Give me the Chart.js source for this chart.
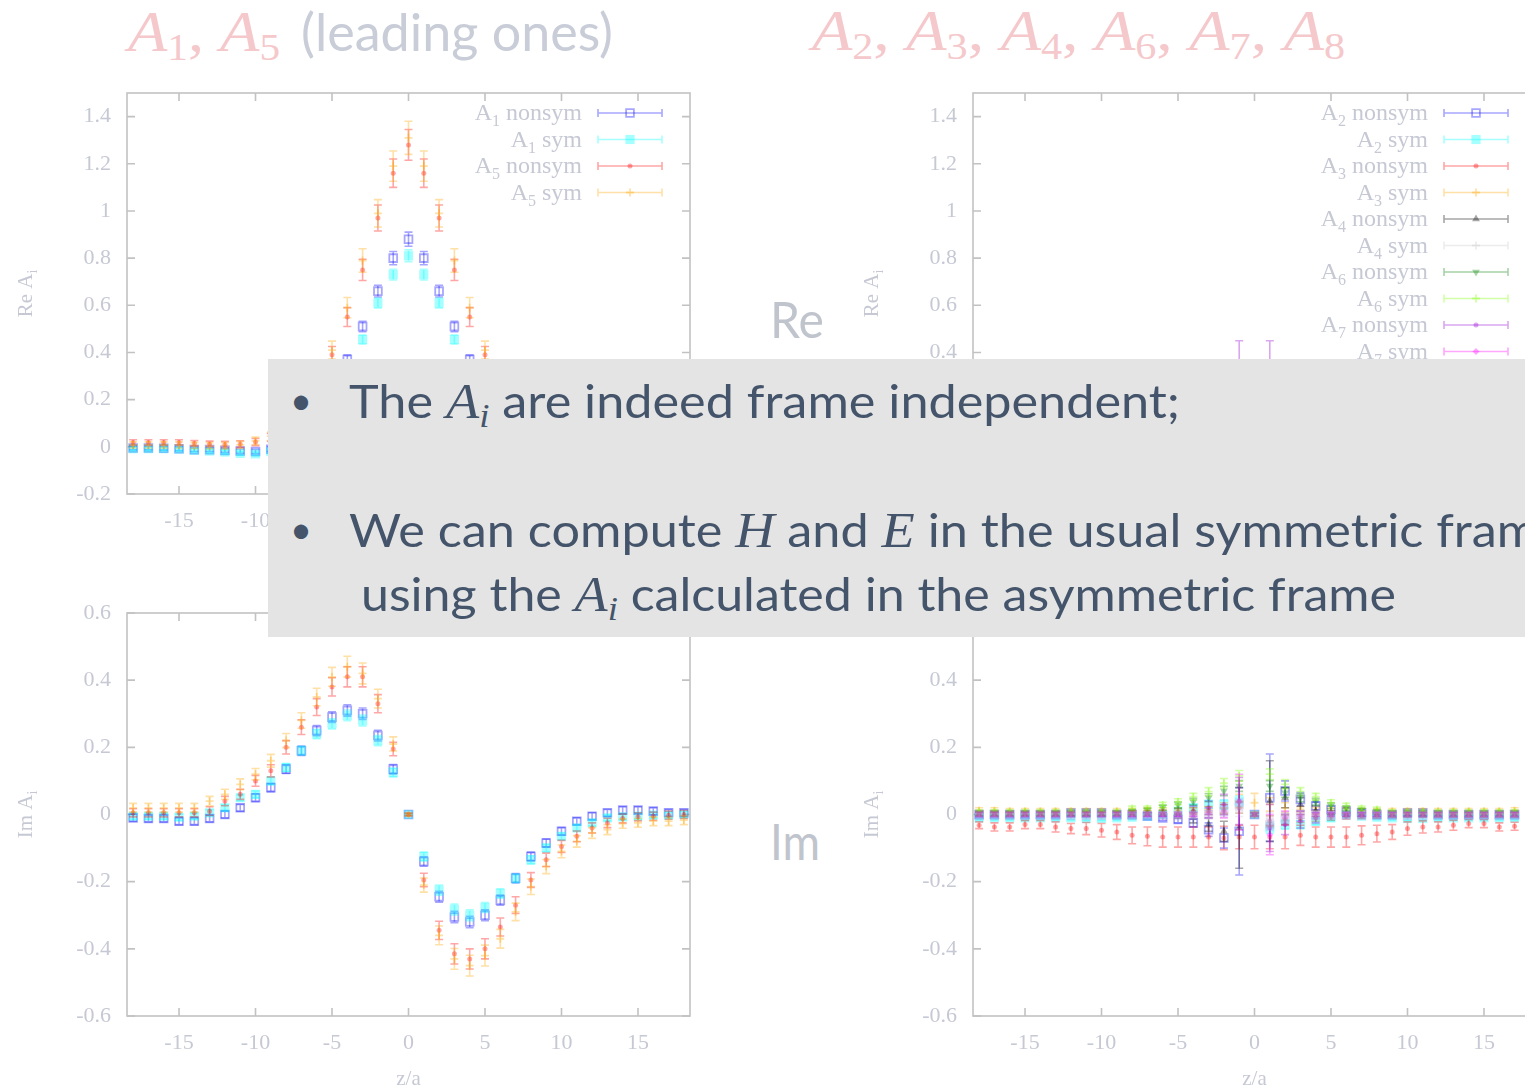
<!DOCTYPE html>
<html lang="en">
<head>
<meta charset="utf-8">
<title>Frame independence of the amplitudes A_i</title>
<script src="https://cdn.jsdelivr.net/npm/chart.js@4.4.1/dist/chart.umd.min.js"></script>
<style>
  html, body { margin: 0; padding: 0; }
  body { position: relative; width: 1525px; height: 1088px; overflow: hidden; background: #ffffff; }
  .plot { position: absolute; }
  .plot canvas { display: block; }
  .txt { position: absolute; left: 0; top: 0; white-space: nowrap; transform-origin: 0 0; line-height: 1.2; }
  .bl { display: inline-block; width: 0; height: 0; vertical-align: baseline; }
  .tmath { font-family: 'Liberation Serif', serif; font-size: 58px; color: #f5c8cb; }
  .tmath i { font-style: italic; }
  .tmath .sb { font-size: 0.64em; position: relative; top: 0.24em; }
  .twords { font-family: Lato, 'Open Sans', sans-serif; font-size: 52px; font-weight: 400; color: #c9cdd8; }
  .tag { font-family: Lato, 'Open Sans', sans-serif; font-size: 50px; color: #c0c4cd; }
  #panel { position: absolute; left: 268px; top: 359px; width: 1320px; height: 278px; background: #e4e4e4; z-index: 5; }
  .say { font-family: Lato, 'Open Sans', sans-serif; font-size: 46px; color: #44546a; z-index: 6; }
  .say .mi { font-family: 'Liberation Serif', serif; font-style: italic; font-size: 1.08em; }
  .say .si { font-size: 0.68em; position: relative; top: 0.26em; }
  .dot { font-size: 38px; }
</style>
</head>
<body>

<div class="plot" style="left:0px;top:80px;width:720px;height:470px"><canvas id="reLead"></canvas></div>
<div class="plot" style="left:846px;top:80px;width:720px;height:470px"><canvas id="reSub"></canvas></div>
<div class="plot" style="left:0px;top:600px;width:720px;height:488px"><canvas id="imLead"></canvas></div>
<div class="plot" style="left:846px;top:600px;width:720px;height:488px"><canvas id="imSub"></canvas></div>

<div class="txt tmath" id="ttlMathL"><i>A</i><span class="sb">1</span>, <i>A</i><span class="sb">5</span><span class="bl"></span></div>
<div class="txt twords" id="ttlWordsL">(leading ones)<span class="bl"></span></div>
<div class="txt tmath" id="ttlMathR"><i>A</i><span class="sb">2</span>, <i>A</i><span class="sb">3</span>, <i>A</i><span class="sb">4</span>, <i>A</i><span class="sb">6</span>, <i>A</i><span class="sb">7</span>, <i>A</i><span class="sb">8</span><span class="bl"></span></div>
<div class="txt tag" id="tagRe">Re<span class="bl"></span></div>
<div class="txt tag" id="tagIm">Im<span class="bl"></span></div>

<div id="panel"></div>
<div class="txt say dot" id="dot1">•<span class="bl"></span></div>
<div class="txt say" id="row1">The <span class="mi">A<span class="si">i</span></span> are indeed frame independent;<span class="bl"></span></div>
<div class="txt say dot" id="dot2">•<span class="bl"></span></div>
<div class="txt say" id="row2">We can compute <span class="mi">H</span> and <span class="mi">E</span> in the usual symmetric frame<span class="bl"></span></div>
<div class="txt say" id="row3">using the <span class="mi">A<span class="si">i</span></span> calculated in the asymmetric frame<span class="bl"></span></div>

<script>
// ---- lattice separations z/a and axis ticks ----
const zValues = [-18,-17,-16,-15,-14,-13,-12,-11,-10,-9,-8,-7,-6,-5,-4,-3,-2,-1,0,1,2,3,4,5,6,7,8,9,10,11,12,13,14,15,16,17,18];
const xTickValues = [-15,-10,-5,0,5,10,15];
const reTickValues = [-0.2,0,0.2,0.4,0.6,0.8,1,1.2,1.4];
const imTickValues = [-0.6,-0.4,-0.2,0,0.2,0.4,0.6];

// ---- Re A1, A5 ----
const reA1Nonsym    = [-0.005,-0.005,-0.006,-0.008,-0.012,-0.012,-0.015,-0.018,-0.02,-0.01,0.02,0.06,0.14,0.25,0.37,0.51,0.66,0.80,0.88,0.80,0.66,0.51,0.37,0.25,0.14,0.06,0.02,-0.01,-0.02,-0.018,-0.015,-0.012,-0.012,-0.008,-0.006,-0.005,-0.005];
const reA1NonsymErr = [0.008,0.008,0.008,0.008,0.008,0.008,0.008,0.009,0.009,0.01,0.01,0.012,0.014,0.016,0.02,0.022,0.025,0.028,0.03,0.028,0.025,0.022,0.02,0.016,0.014,0.012,0.01,0.01,0.009,0.009,0.008,0.008,0.008,0.008,0.008,0.008,0.008];
const reA1Sym       = [-0.008,-0.008,-0.008,-0.01,-0.015,-0.018,-0.022,-0.028,-0.03,-0.02,0.01,0.05,0.11,0.2,0.31,0.455,0.61,0.73,0.81,0.73,0.61,0.455,0.31,0.2,0.11,0.05,0.01,-0.02,-0.03,-0.028,-0.022,-0.018,-0.015,-0.01,-0.008,-0.008,-0.008];
const reA1SymErr    = [0.007,0.007,0.007,0.007,0.007,0.007,0.008,0.008,0.008,0.009,0.01,0.011,0.013,0.015,0.017,0.019,0.021,0.023,0.025,0.023,0.021,0.019,0.017,0.015,0.013,0.011,0.01,0.009,0.008,0.008,0.008,0.007,0.007,0.007,0.007,0.007,0.007];
const reA5Nonsym    = [0.018,0.018,0.018,0.018,0.015,0.012,0.01,0.012,0.02,0.04,0.08,0.15,0.25,0.39,0.55,0.75,0.97,1.16,1.28,1.16,0.97,0.75,0.55,0.39,0.25,0.15,0.08,0.04,0.02,0.012,0.01,0.012,0.015,0.018,0.018,0.018,0.018];
const reA5NonsymErr = [0.012,0.012,0.012,0.012,0.012,0.012,0.013,0.014,0.015,0.017,0.02,0.025,0.03,0.035,0.04,0.045,0.055,0.06,0.065,0.06,0.055,0.045,0.04,0.035,0.03,0.025,0.02,0.017,0.015,0.014,0.013,0.012,0.012,0.012,0.012,0.012,0.012];
const reA5Sym       = [0.008,0.008,0.008,0.008,0.006,0.005,0.005,0.008,0.025,0.045,0.09,0.16,0.27,0.41,0.59,0.79,0.99,1.19,1.31,1.19,0.99,0.79,0.59,0.41,0.27,0.16,0.09,0.045,0.025,0.008,0.005,0.005,0.006,0.008,0.008,0.008,0.008];
const reA5SymErr    = [0.013,0.013,0.013,0.013,0.013,0.013,0.014,0.015,0.016,0.018,0.022,0.027,0.032,0.038,0.043,0.05,0.058,0.064,0.07,0.064,0.058,0.05,0.043,0.038,0.032,0.027,0.022,0.018,0.016,0.015,0.014,0.013,0.013,0.013,0.013,0.013,0.013];

// ---- Im A1, A5 ----
const imA1Nonsym    = [-0.01,-0.012,-0.012,-0.02,-0.02,-0.012,0,0.02,0.05,0.08,0.135,0.19,0.25,0.29,0.31,0.30,0.235,0.135,0,-0.14,-0.245,-0.305,-0.32,-0.30,-0.255,-0.19,-0.125,-0.085,-0.05,-0.02,-0.005,0.005,0.013,0.013,0.01,0.005,0.005];
const imA1NonsymErr = [0.01,0.01,0.01,0.01,0.01,0.01,0.01,0.01,0.011,0.012,0.013,0.014,0.015,0.016,0.017,0.017,0.016,0.014,0.003,0.014,0.016,0.017,0.017,0.016,0.015,0.014,0.013,0.012,0.011,0.01,0.01,0.01,0.01,0.01,0.01,0.01,0.01];
const imA1Sym       = [-0.005,-0.005,-0.005,-0.008,-0.005,0.005,0.02,0.05,0.06,0.10,0.14,0.19,0.24,0.27,0.295,0.28,0.22,0.125,0,-0.125,-0.225,-0.283,-0.30,-0.277,-0.235,-0.19,-0.135,-0.10,-0.065,-0.04,-0.025,-0.01,-0.007,-0.005,-0.002,-0.002,0];
const imA1SymErr    = [0.009,0.009,0.009,0.009,0.009,0.009,0.009,0.009,0.01,0.011,0.012,0.013,0.014,0.015,0.016,0.016,0.015,0.013,0.003,0.013,0.015,0.016,0.016,0.015,0.014,0.013,0.012,0.011,0.01,0.009,0.009,0.009,0.009,0.009,0.009,0.009,0.009];
const imA5Nonsym    = [0.005,0.005,0.005,0.005,0.005,0.01,0.04,0.06,0.10,0.13,0.20,0.26,0.32,0.38,0.41,0.41,0.33,0.195,0,-0.195,-0.345,-0.415,-0.43,-0.40,-0.335,-0.27,-0.195,-0.135,-0.095,-0.065,-0.04,-0.025,-0.012,-0.007,-0.005,-0.002,0];
const imA5NonsymErr = [0.012,0.012,0.012,0.012,0.012,0.013,0.014,0.015,0.016,0.018,0.02,0.022,0.025,0.027,0.03,0.03,0.027,0.02,0.004,0.02,0.027,0.03,0.03,0.03,0.027,0.025,0.022,0.02,0.018,0.016,0.015,0.014,0.013,0.012,0.012,0.012,0.012];
const imA5Sym       = [0.02,0.02,0.02,0.02,0.02,0.04,0.06,0.09,0.12,0.16,0.22,0.28,0.35,0.41,0.44,0.42,0.345,0.21,0,-0.21,-0.36,-0.43,-0.45,-0.42,-0.37,-0.29,-0.215,-0.155,-0.11,-0.08,-0.055,-0.045,-0.027,-0.025,-0.02,-0.02,-0.017];
const imA5SymErr    = [0.013,0.013,0.013,0.013,0.013,0.014,0.015,0.016,0.017,0.019,0.021,0.023,0.026,0.028,0.031,0.031,0.028,0.021,0.004,0.021,0.028,0.031,0.031,0.031,0.028,0.026,0.023,0.021,0.019,0.017,0.016,0.015,0.014,0.013,0.013,0.013,0.013];

// ---- Re A2, A3, A4, A6, A7, A8 ----
const reA2Nonsym = [0,0,0,0,0,0.005,0.005,0.01,0.01,0.015,0.02,0.025,0.03,0.04,0.05,0.06,0.07,0.08,0.085,0.08,0.07,0.06,0.05,0.04,0.03,0.025,0.02,0.015,0.01,0.01,0.005,0.005,0,0,0,0,0];
const reA2Sym    = [0,0,0,0,0,0,0.005,0.005,0.01,0.015,0.018,0.022,0.028,0.035,0.045,0.055,0.062,0.07,0.075,0.07,0.062,0.055,0.045,0.035,0.028,0.022,0.018,0.015,0.01,0.005,0.005,0,0,0,0,0,0];
const reA3Nonsym = [-0.01,-0.01,-0.01,-0.01,-0.012,-0.012,-0.015,-0.018,-0.02,-0.025,-0.03,-0.035,-0.045,-0.055,-0.065,-0.08,-0.095,-0.11,-0.12,-0.11,-0.095,-0.08,-0.065,-0.055,-0.045,-0.035,-0.03,-0.025,-0.02,-0.018,-0.015,-0.012,-0.012,-0.01,-0.01,-0.01,-0.01];
const reA3Sym    = [-0.008,-0.008,-0.008,-0.008,-0.01,-0.01,-0.012,-0.015,-0.018,-0.022,-0.028,-0.034,-0.042,-0.052,-0.062,-0.075,-0.09,-0.1,-0.11,-0.1,-0.09,-0.075,-0.062,-0.052,-0.042,-0.034,-0.028,-0.022,-0.018,-0.015,-0.012,-0.01,-0.01,-0.008,-0.008,-0.008,-0.008];
const reA4Nonsym = [0,0,0,0,0,0,0,0,0,0.005,0.005,0.01,0.015,0.02,0.025,0.03,0.035,0.03,0.02,0.03,0.035,0.03,0.025,0.02,0.015,0.01,0.005,0.005,0,0,0,0,0,0,0,0,0];
const reA4Sym    = [0,0,0,0,0,0,0,0,0,0,0.005,0.005,0.01,0.012,0.015,0.02,0.022,0.018,0.012,0.018,0.022,0.02,0.015,0.012,0.01,0.005,0.005,0,0,0,0,0,0,0,0,0,0];
const reA6Nonsym = [0.005,0.005,0.005,0.005,0.008,0.01,0.012,0.015,0.02,0.025,0.03,0.04,0.05,0.06,0.075,0.09,0.11,0.13,0.14,0.13,0.11,0.09,0.075,0.06,0.05,0.04,0.03,0.025,0.02,0.015,0.012,0.01,0.008,0.005,0.005,0.005,0.005];
const reA6Sym    = [0.005,0.005,0.005,0.005,0.006,0.008,0.01,0.012,0.016,0.02,0.026,0.034,0.044,0.055,0.068,0.082,0.1,0.12,0.13,0.12,0.1,0.082,0.068,0.055,0.044,0.034,0.026,0.02,0.016,0.012,0.01,0.008,0.006,0.005,0.005,0.005,0.005];
const reA7Nonsym = [0,0,0,0,0,0,0,0,0,0,0.005,0.005,0.01,0.01,0.015,0.02,0.03,0.05,0.02,0.05,0.03,0.02,0.015,0.01,0.01,0.005,0.005,0,0,0,0,0,0,0,0,0,0];
const reA7Sym    = [0,0,0,0,0,0,0,0,0,0,0,0.005,0.005,0.01,0.01,0.015,0.02,0.03,0.02,0.03,0.02,0.015,0.01,0.01,0.005,0.005,0,0,0,0,0,0,0,0,0,0,0];
const reA8Nonsym = [-0.004,-0.004,-0.004,-0.004,-0.005,-0.005,-0.006,-0.008,-0.01,-0.012,-0.015,-0.02,-0.025,-0.03,-0.035,-0.04,-0.045,-0.05,-0.05,-0.05,-0.045,-0.04,-0.035,-0.03,-0.025,-0.02,-0.015,-0.012,-0.01,-0.008,-0.006,-0.005,-0.005,-0.004,-0.004,-0.004,-0.004];
const reA8Sym    = [-0.003,-0.003,-0.003,-0.003,-0.004,-0.004,-0.005,-0.006,-0.008,-0.01,-0.012,-0.016,-0.02,-0.024,-0.028,-0.032,-0.036,-0.04,-0.04,-0.04,-0.036,-0.032,-0.028,-0.024,-0.02,-0.016,-0.012,-0.01,-0.008,-0.006,-0.005,-0.004,-0.004,-0.003,-0.003,-0.003,-0.003];
const reErrNarrow   = [0.006,0.006,0.006,0.006,0.006,0.006,0.007,0.007,0.008,0.008,0.009,0.01,0.011,0.012,0.014,0.016,0.018,0.02,0.022,0.02,0.018,0.016,0.014,0.012,0.011,0.01,0.009,0.008,0.008,0.007,0.007,0.006,0.006,0.006,0.006,0.006,0.006];
const reErrWide     = [0.01,0.01,0.01,0.01,0.01,0.011,0.012,0.013,0.014,0.016,0.018,0.02,0.023,0.026,0.03,0.034,0.04,0.048,0.055,0.048,0.04,0.034,0.03,0.026,0.023,0.02,0.018,0.016,0.014,0.013,0.012,0.011,0.01,0.01,0.01,0.01,0.01];
const reA7NonsymErr = [0.008,0.008,0.008,0.008,0.008,0.008,0.008,0.008,0.008,0.009,0.01,0.012,0.015,0.02,0.03,0.05,0.09,0.4,0.06,0.4,0.09,0.05,0.03,0.02,0.015,0.012,0.01,0.009,0.008,0.008,0.008,0.008,0.008,0.008,0.008,0.008,0.008];

// ---- Im A2, A3, A4, A6, A7, A8 ----
const imA2Nonsym    = [0,0,0,0,0,0,0.005,0.005,0.005,0,0,-0.005,-0.01,-0.015,-0.025,-0.045,-0.07,-0.05,0,0.05,0.07,0.045,0.025,0.015,0.01,0.005,0,0,0.005,0.005,0,0,0,0,0,0,0];
const imA2NonsymErr = [0.008,0.008,0.008,0.008,0.008,0.008,0.008,0.008,0.008,0.008,0.008,0.008,0.008,0.01,0.012,0.02,0.03,0.13,0.005,0.13,0.03,0.02,0.012,0.01,0.008,0.008,0.008,0.008,0.008,0.008,0.008,0.008,0.008,0.008,0.008,0.008,0.008];
const imA2Sym       = [-0.01,-0.01,-0.01,-0.01,-0.01,-0.01,-0.01,-0.012,-0.012,-0.01,-0.008,-0.005,0,0.01,0.02,0.03,0.03,0.04,0,-0.04,-0.03,-0.03,-0.02,-0.01,0,-0.005,-0.008,-0.01,-0.012,-0.012,-0.01,-0.01,-0.01,-0.01,-0.01,-0.01,-0.01];
const imA3Nonsym    = [-0.032,-0.037,-0.037,-0.03,-0.03,-0.037,-0.042,-0.042,-0.047,-0.052,-0.062,-0.065,-0.067,-0.067,-0.067,-0.067,-0.07,-0.067,-0.067,-0.067,-0.067,-0.062,-0.067,-0.067,-0.067,-0.062,-0.057,-0.052,-0.042,-0.037,-0.037,-0.032,-0.027,-0.027,-0.037,-0.035,-0.032];
const imA3NonsymErr = [0.01,0.012,0.012,0.012,0.012,0.015,0.015,0.018,0.02,0.022,0.025,0.028,0.03,0.03,0.03,0.03,0.035,0.035,0.035,0.035,0.035,0.03,0.03,0.03,0.03,0.028,0.025,0.022,0.02,0.018,0.015,0.015,0.012,0.012,0.012,0.012,0.01];
const imA3Sym       = [0.012,0.012,0.01,0.01,0.01,0.01,0.01,0.01,0.01,0.01,0.01,0.012,0.012,0.012,0.012,0.015,0.02,0.04,0.035,0.03,0.02,0.015,0.012,0.012,0.012,0.01,0.01,0.01,0.01,0.01,0.01,0.01,0.01,0.01,0.01,0.012,0.012];
const imA3SymErr    = [0.008,0.008,0.008,0.008,0.008,0.008,0.008,0.008,0.008,0.008,0.008,0.008,0.008,0.008,0.008,0.008,0.015,0.02,0.028,0.02,0.015,0.008,0.008,0.008,0.008,0.008,0.008,0.008,0.008,0.008,0.008,0.008,0.008,0.008,0.008,0.008,0.008];
const imA4Nonsym    = [0,0,0,0,0,0,0,0,0,0,0,0,0,-0.005,-0.01,-0.03,-0.05,-0.04,0,0.04,0.05,0.03,0.01,0.005,0,0,0,0,0,0,0,0,0,0,0,0,0];
const imA4NonsymErr = [0.006,0.006,0.006,0.006,0.006,0.006,0.006,0.006,0.006,0.006,0.006,0.006,0.006,0.006,0.015,0.02,0.03,0.12,0.005,0.12,0.03,0.02,0.015,0.006,0.006,0.006,0.006,0.006,0.006,0.006,0.006,0.006,0.006,0.006,0.006,0.006,0.006];
const imA4Sym       = [0,0,0,0,0,0,0,0,0,0,0,0,0,0,0,0,0.005,0.01,0,-0.01,-0.005,0,0,0,0,0,0,0,0,0,0,0,0,0,0,0,0];
const imA6Nonsym    = [0.004,0.004,0.004,0.004,0.004,0.004,0.004,0.004,0.004,0.004,0.008,0.012,0.02,0.028,0.038,0.05,0.07,0.085,0,0.085,0.065,0.05,0.038,0.026,0.018,0.012,0.008,0.004,0.004,0.004,0.004,0.004,0.004,0.004,0.004,0.004,0.004];
const imA6Sym       = [0.008,0.008,0.008,0.008,0.008,0.008,0.008,0.008,0.008,0.008,0.018,0.018,0.028,0.038,0.053,0.068,0.093,0.115,0,0.12,0.09,0.068,0.053,0.035,0.025,0.018,0.015,0.008,0.008,0.008,0.008,0.008,0.008,0.008,0.008,0.008,0.008];
const imA7Nonsym    = [0,0,0,0,0,0,0,0,0,0,0,0,0,0,0.01,0.02,0.03,0.04,0,-0.04,-0.03,-0.02,-0.01,0,0,0,0,0,0,0,0,0,0,0,0,0,0];
const imA7NonsymErr = [0.006,0.006,0.006,0.006,0.006,0.006,0.006,0.006,0.006,0.006,0.006,0.006,0.006,0.006,0.015,0.02,0.03,0.07,0.005,0.07,0.03,0.02,0.015,0.006,0.006,0.006,0.006,0.006,0.006,0.006,0.006,0.006,0.006,0.006,0.006,0.006,0.006];
const imA7Sym       = [0,0,0,0,0,0,0,0,0,0,0,0,0,0,0,0.005,0.01,0.037,0,-0.06,-0.01,-0.005,0,0,0,0,0,0,0,0,0,0,0,0,0,0,0];
const imA7SymErr    = [0.006,0.006,0.006,0.006,0.006,0.006,0.006,0.006,0.006,0.006,0.006,0.006,0.006,0.006,0.006,0.015,0.02,0.083,0.005,0.06,0.02,0.015,0.006,0.006,0.006,0.006,0.006,0.006,0.006,0.006,0.006,0.006,0.006,0.006,0.006,0.006,0.006];
const imA8Nonsym    = [0.002,0.002,0.002,0.002,0.002,0.002,0.002,0.002,0.002,0.003,0.004,0.005,0.006,0.008,0.01,0.012,0.015,0.02,0,-0.02,-0.015,-0.012,-0.01,-0.008,-0.006,-0.005,-0.004,-0.003,-0.002,-0.002,-0.002,-0.002,-0.002,-0.002,-0.002,-0.002,-0.002];
const imA8Sym       = [-0.003,-0.003,-0.003,-0.003,-0.003,-0.003,-0.003,-0.003,-0.003,-0.003,-0.003,-0.003,-0.003,-0.003,-0.003,0,0.01,0.03,0,-0.03,-0.01,0,-0.003,-0.003,-0.003,-0.003,-0.003,-0.003,-0.003,-0.003,-0.003,-0.003,-0.003,-0.003,-0.003,-0.003,-0.003];
const imErrSmall    = [0.006,0.006,0.006,0.006,0.006,0.006,0.006,0.006,0.006,0.006,0.007,0.007,0.008,0.009,0.01,0.012,0.014,0.016,0.006,0.016,0.014,0.012,0.01,0.009,0.008,0.007,0.007,0.006,0.006,0.006,0.006,0.006,0.006,0.006,0.006,0.006,0.006];

// ---- drawing styles ----
const MARK_ALPHA = 0.35;
const TEXT_GREY = '#c6c9d4';
const FRAME_GREY = '#c2c2c2';
const SERIF = '"Liberation Serif", "Times New Roman", serif';
const TICK_IN = 8;

const STYLE = {
  openSquare:   (rgb) => ({ rgb, pointStyle: 'rect', radius: 5.5, fill: false }),
  filledSquare: (rgb) => ({ rgb, pointStyle: 'rect', radius: 6.5, fill: true }),
  dot:          (rgb) => ({ rgb, pointStyle: 'circle', radius: 2.5, fill: true }),
  plus:         (rgb) => ({ rgb, pointStyle: 'cross', radius: 4, fill: false }),
  triUp:        (rgb) => ({ rgb, pointStyle: 'triangle', radius: 4.5, fill: true }),
  triDown:      (rgb) => ({ rgb, pointStyle: 'triangle', radius: 4.5, fill: true, rotation: 180 }),
  diamond:      (rgb) => ({ rgb, pointStyle: 'rectRot', radius: 3.5, fill: true })
};
const BLUE = [0,0,255], CYAN = [0,255,255], RED = [255,0,0], ORANGE = [255,165,0];
const BLACK = [0,0,0], LIGHTGREY = [200,200,200], GREEN = [0,128,0], LIME = [127,255,0];
const VIOLET = [148,0,211], MAGENTA = [255,0,255], SIENNA = [160,82,45], LAVENDER = [178,150,226];

const rgba = (c, a) => `rgba(${c[0]},${c[1]},${c[2]},${a})`;

function series(label, values, errors, style, index, count) {
  const col = rgba(style.rgb, MARK_ALPHA);
  return {
    label,
    data: zValues.map((z, i) => ({ x: z, y: values[i] })),
    errors,
    order: count - index,
    borderColor: col,
    pointStyle: style.pointStyle,
    pointRadius: style.radius,
    pointRotation: style.rotation || 0,
    pointBackgroundColor: style.fill ? col : 'rgba(0,0,0,0)',
    pointBorderColor: col,
    pointBorderWidth: style.fill ? 0 : 1.8,
    showLine: false
  };
}

function buildSet(list) {
  return list.map((s, i) => series(s[0], s[1], s[2], s[3], i, list.length));
}

// ---- error bars, drawn under each dataset's markers ----
const errorBarPlugin = {
  id: 'errorBars',
  beforeDatasetDraw(chart, args) {
    const ds = chart.data.datasets[args.index];
    if (!ds.errors) return;
    const { ctx, chartArea: a } = chart;
    const ys = chart.scales.y;
    ctx.save();
    ctx.beginPath();
    ctx.rect(a.left, a.top, a.right - a.left, a.bottom - a.top);
    ctx.clip();
    ctx.strokeStyle = ds.borderColor;
    ctx.lineWidth = 1.6;
    const cap = 4;
    args.meta.data.forEach((pt, i) => {
      const v = ds.data[i].y, e = ds.errors[i];
      const yHi = ys.getPixelForValue(v + e), yLo = ys.getPixelForValue(v - e);
      ctx.beginPath();
      ctx.moveTo(pt.x, yHi); ctx.lineTo(pt.x, yLo);
      ctx.moveTo(pt.x - cap, yHi); ctx.lineTo(pt.x + cap, yHi);
      ctx.moveTo(pt.x - cap, yLo); ctx.lineTo(pt.x + cap, yLo);
      ctx.stroke();
    });
    ctx.restore();
  }
};

// ---- gnuplot-like box with inward ticks, axis titles and key ----
function drawSubscripted(ctx, main, sub, x, y, size) {
  ctx.font = `${size}px ${SERIF}`;
  ctx.fillText(main, x, y);
  const w = ctx.measureText(main).width;
  ctx.font = `${Math.round(size * 0.68)}px ${SERIF}`;
  ctx.fillText(sub, x + w, y + size * 0.25);
}
function measureSubscripted(ctx, main, sub, size) {
  ctx.font = `${size}px ${SERIF}`;
  const w1 = ctx.measureText(main).width;
  ctx.font = `${Math.round(size * 0.68)}px ${SERIF}`;
  return w1 + ctx.measureText(sub).width;
}

const framePlugin = {
  id: 'gnuFrame',
  beforeDatasetsDraw(chart) {
    const { ctx, chartArea: a, scales: { x, y } } = chart;
    ctx.save();
    ctx.strokeStyle = FRAME_GREY;
    ctx.lineWidth = 1.6;
    ctx.strokeRect(a.left, a.top, a.right - a.left, a.bottom - a.top);
    ctx.beginPath();
    x.ticks.forEach(t => {
      const px = x.getPixelForValue(t.value);
      ctx.moveTo(px, a.bottom); ctx.lineTo(px, a.bottom - TICK_IN);
      ctx.moveTo(px, a.top); ctx.lineTo(px, a.top + TICK_IN);
    });
    y.ticks.forEach(t => {
      const py = y.getPixelForValue(t.value);
      ctx.moveTo(a.left, py); ctx.lineTo(a.left + TICK_IN, py);
      ctx.moveTo(a.right, py); ctx.lineTo(a.right - TICK_IN, py);
    });
    ctx.stroke();
    ctx.restore();
  },
  afterDraw(chart, args, opts) {
    const { ctx, chartArea: a } = chart;
    ctx.save();
    ctx.fillStyle = TEXT_GREY;
    ctx.textBaseline = 'alphabetic';
    // y-axis title, rotated
    ctx.save();
    ctx.translate(a.left - 102, (a.top + a.bottom) / 2);
    ctx.rotate(-Math.PI / 2);
    const wy = measureSubscripted(ctx, opts.yTitle[0], opts.yTitle[1], 21);
    drawSubscripted(ctx, opts.yTitle[0], opts.yTitle[1], -wy / 2, 7, 21);
    ctx.restore();
    // x-axis title
    ctx.font = `21px ${SERIF}`;
    ctx.textAlign = 'center';
    ctx.fillText(opts.xTitle, (a.left + a.right) / 2, a.bottom + 69);
    ctx.textAlign = 'left';
    // key
    if (opts.key) {
      chart.data.datasets.forEach((ds, i) => {
        const yy = a.top + 20 + i * 26.5;
        const m = /^A(\d)\s(.*)$/.exec(ds.label);
        const rest = ' ' + m[2];
        const wSubPart = measureSubscripted(ctx, 'A', m[1], 24);
        ctx.font = `24px ${SERIF}`;
        const wRest = ctx.measureText(rest).width;
        let tx = a.right - 108 - wSubPart - wRest;
        ctx.fillStyle = TEXT_GREY;
        drawSubscripted(ctx, 'A', m[1], tx, yy + 7, 24);
        ctx.font = `24px ${SERIF}`;
        ctx.fillText(rest, tx + wSubPart, yy + 7);
        const x1 = a.right - 92, x2 = a.right - 28;
        ctx.strokeStyle = ds.borderColor;
        ctx.lineWidth = 1.6;
        ctx.beginPath();
        ctx.moveTo(x1, yy); ctx.lineTo(x2, yy);
        ctx.moveTo(x1, yy - 4); ctx.lineTo(x1, yy + 4);
        ctx.moveTo(x2, yy - 4); ctx.lineTo(x2, yy + 4);
        ctx.stroke();
        ctx.fillStyle = ds.pointBackgroundColor;
        ctx.strokeStyle = ds.pointBorderColor;
        ctx.lineWidth = ds.pointBorderWidth || 1.6;
        Chart.helpers.drawPoint(ctx, {
          pointStyle: ds.pointStyle, radius: ds.pointRadius,
          rotation: ds.pointRotation, borderWidth: ds.pointBorderWidth || (ds.pointStyle === 'cross' ? 1.6 : 0)
        }, (x1 + x2) / 2, yy);
      });
    }
    ctx.restore();
  }
};

function buildChart(canvasId, datasets, yMin, yMax, yTicks, yTitle, key, xAxisHeight) {
  return new Chart(document.getElementById(canvasId), {
    type: 'scatter',
    data: { datasets },
    options: {
      responsive: true,
      maintainAspectRatio: false,
      animation: false,
      events: [],
      layout: { padding: { top: 13, right: 30, left: 0, bottom: 0 } },
      plugins: {
        legend: { display: false },
        tooltip: { enabled: false },
        gnuFrame: { yTitle, xTitle: 'z/a', key }
      },
      scales: {
        x: {
          type: 'linear', min: -18.4, max: 18.4,
          afterBuildTicks: ax => { ax.ticks = xTickValues.map(v => ({ value: v })); },
          afterFit: ax => { ax.height = xAxisHeight; ax.paddingLeft = 0; ax.paddingRight = 0; },
          grid: { display: false, drawTicks: false },
          border: { display: false },
          ticks: { padding: 14, color: TEXT_GREY, font: { family: SERIF, size: 22 }, maxRotation: 0, autoSkip: false, callback: v => String(v) }
        },
        y: {
          type: 'linear', min: yMin, max: yMax,
          afterBuildTicks: ax => { ax.ticks = yTicks.map(v => ({ value: v })); },
          afterFit: ax => { ax.width = 127; ax.paddingTop = 0; ax.paddingBottom = 0; },
          grid: { display: false, drawTicks: false },
          border: { display: false },
          ticks: { padding: 16, color: TEXT_GREY, font: { family: SERIF, size: 22 }, autoSkip: false, callback: v => String(Math.round(v * 10) / 10) }
        }
      }
    },
    plugins: [errorBarPlugin, framePlugin]
  });
}

function drawAll() {
  buildChart('reLead', buildSet([
    ['A1 nonsym', reA1Nonsym, reA1NonsymErr, STYLE.openSquare(BLUE)],
    ['A1 sym',    reA1Sym,    reA1SymErr,    STYLE.filledSquare(CYAN)],
    ['A5 nonsym', reA5Nonsym, reA5NonsymErr, STYLE.dot(RED)],
    ['A5 sym',    reA5Sym,    reA5SymErr,    STYLE.plus(ORANGE)]
  ]), -0.2, 1.5, reTickValues, ['Re A', 'i'], true, 56);

  buildChart('reSub', buildSet([
    ['A2 nonsym', reA2Nonsym, reErrNarrow,   STYLE.openSquare(BLUE)],
    ['A2 sym',    reA2Sym,    reErrNarrow,   STYLE.filledSquare(CYAN)],
    ['A3 nonsym', reA3Nonsym, reErrWide,     STYLE.dot(RED)],
    ['A3 sym',    reA3Sym,    reErrWide,     STYLE.plus(ORANGE)],
    ['A4 nonsym', reA4Nonsym, reErrWide,     STYLE.triUp(BLACK)],
    ['A4 sym',    reA4Sym,    reErrNarrow,   STYLE.plus(LIGHTGREY)],
    ['A6 nonsym', reA6Nonsym, reErrWide,     STYLE.triDown(GREEN)],
    ['A6 sym',    reA6Sym,    reErrNarrow,   STYLE.plus(LIME)],
    ['A7 nonsym', reA7Nonsym, reA7NonsymErr, STYLE.dot(VIOLET)],
    ['A7 sym',    reA7Sym,    reErrNarrow,   STYLE.diamond(MAGENTA)],
    ['A8 nonsym', reA8Nonsym, reErrWide,     STYLE.dot(SIENNA)],
    ['A8 sym',    reA8Sym,    reErrNarrow,   STYLE.filledSquare(LAVENDER)]
  ]), -0.2, 1.5, reTickValues, ['Re A', 'i'], true, 56);

  buildChart('imLead', buildSet([
    ['A1 nonsym', imA1Nonsym, imA1NonsymErr, STYLE.openSquare(BLUE)],
    ['A1 sym',    imA1Sym,    imA1SymErr,    STYLE.filledSquare(CYAN)],
    ['A5 nonsym', imA5Nonsym, imA5NonsymErr, STYLE.dot(RED)],
    ['A5 sym',    imA5Sym,    imA5SymErr,    STYLE.plus(ORANGE)]
  ]), -0.6, 0.6, imTickValues, ['Im A', 'i'], false, 72);

  buildChart('imSub', buildSet([
    ['A2 nonsym', imA2Nonsym, imA2NonsymErr, STYLE.openSquare(BLUE)],
    ['A2 sym',    imA2Sym,    imErrSmall,    STYLE.filledSquare(CYAN)],
    ['A3 nonsym', imA3Nonsym, imA3NonsymErr, STYLE.dot(RED)],
    ['A3 sym',    imA3Sym,    imA3SymErr,    STYLE.plus(ORANGE)],
    ['A4 nonsym', imA4Nonsym, imA4NonsymErr, STYLE.triUp(BLACK)],
    ['A4 sym',    imA4Sym,    imErrSmall,    STYLE.plus(LIGHTGREY)],
    ['A6 nonsym', imA6Nonsym, imErrSmall,    STYLE.triDown(GREEN)],
    ['A6 sym',    imA6Sym,    imErrSmall,    STYLE.plus(LIME)],
    ['A7 nonsym', imA7Nonsym, imA7NonsymErr, STYLE.dot(VIOLET)],
    ['A7 sym',    imA7Sym,    imA7SymErr,    STYLE.diamond(MAGENTA)],
    ['A8 nonsym', imA8Nonsym, imErrSmall,    STYLE.dot(SIENNA)],
    ['A8 sym',    imA8Sym,    imErrSmall,    STYLE.filledSquare(LAVENDER)]
  ]), -0.6, 0.6, imTickValues, ['Im A', 'i'], false, 72);
}

// ---- slide text: left edge, baseline, and run width ----
const textPlacement = [
  ['ttlMathL', 128, 51, 152],
  ['ttlWordsL', 301, 51, 312],
  ['ttlMathR', 812, 50, 533],
  ['tagRe', 770, 338, 54],
  ['tagIm', 770, 860, 50],
  ['dot1', 290, 414, null],
  ['row1', 349, 418, 831],
  ['dot2', 290, 543, null],
  ['row2', 349, 547, 'row1'],
  ['row3', 361, 611, 1035]
];

function placeTexts() {
  const factors = {};
  textPlacement.forEach(([id, left, base, width]) => {
    const el = document.getElementById(id);
    el.style.transform = 'none';
    el.style.left = left + 'px';
    el.style.top = '0px';
    const probe = el.querySelector('.bl');
    const offset = probe.getBoundingClientRect().top - el.getBoundingClientRect().top;
    el.style.top = (base - offset) + 'px';
    let k = 1;
    if (typeof width === 'number') k = width / el.getBoundingClientRect().width;
    else if (typeof width === 'string') k = factors[width];
    factors[id] = k;
    if (k !== 1) el.style.transform = `scaleX(${k})`;
  });
}

document.fonts.ready.then(() => { placeTexts(); drawAll(); });
</script>
</body>
</html>
